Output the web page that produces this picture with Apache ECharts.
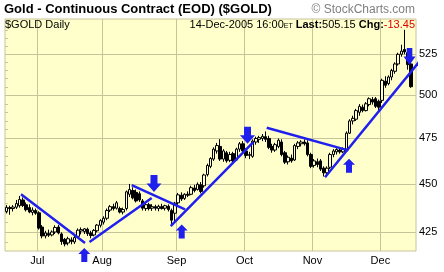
<!DOCTYPE html>
<html><head><meta charset="utf-8">
<script src="https://cdn.jsdelivr.net/npm/echarts@6/dist/echarts.min.js"></script>
<style>html,body{margin:0;padding:0;background:#fff}#c{width:444px;height:272px}</style>
</head><body><div id="c"></div>
<script>
// ---- data ----
const dates = [
'2005-06-17','2005-06-20','2005-06-21','2005-06-22','2005-06-23','2005-06-24','2005-06-27','2005-06-28','2005-06-29','2005-06-30',
'2005-07-01','2005-07-05','2005-07-06','2005-07-07','2005-07-08','2005-07-11','2005-07-12','2005-07-13','2005-07-14','2005-07-15',
'2005-07-18','2005-07-19','2005-07-20','2005-07-21','2005-07-22','2005-07-25','2005-07-26','2005-07-27','2005-07-28','2005-07-29',
'2005-08-01','2005-08-02','2005-08-03','2005-08-04','2005-08-05','2005-08-08','2005-08-09','2005-08-10','2005-08-11','2005-08-12',
'2005-08-15','2005-08-16','2005-08-17','2005-08-18','2005-08-19','2005-08-22','2005-08-23','2005-08-24','2005-08-25','2005-08-26',
'2005-08-29','2005-08-30','2005-08-31',
'2005-09-01','2005-09-02','2005-09-06','2005-09-07','2005-09-08','2005-09-09','2005-09-12','2005-09-13','2005-09-14','2005-09-15',
'2005-09-16','2005-09-19','2005-09-20','2005-09-21','2005-09-22','2005-09-23','2005-09-26','2005-09-27','2005-09-28','2005-09-29','2005-09-30',
'2005-10-03','2005-10-04','2005-10-05','2005-10-06','2005-10-07','2005-10-10','2005-10-11','2005-10-12','2005-10-13','2005-10-14',
'2005-10-17','2005-10-18','2005-10-19','2005-10-20','2005-10-21','2005-10-24','2005-10-25','2005-10-26','2005-10-27','2005-10-28','2005-10-31',
'2005-11-01','2005-11-02','2005-11-03','2005-11-04','2005-11-07','2005-11-08','2005-11-09','2005-11-10','2005-11-11','2005-11-14',
'2005-11-15','2005-11-16','2005-11-17','2005-11-18','2005-11-21','2005-11-22','2005-11-23','2005-11-25','2005-11-28','2005-11-29','2005-11-30',
'2005-12-01','2005-12-02','2005-12-05','2005-12-06','2005-12-07','2005-12-08','2005-12-09','2005-12-12','2005-12-13','2005-12-14'
];
const open = [435.5,437.5,437.0,437.7,438.5,441.5,439.0,437.5,435.0,436.0,
434.8,427.5,423.0,424.2,423.5,425.0,427.5,424.0,421.3,419.5,
421.0,420.0,422.8,425.5,425.2,426.4,424.5,423.5,425.6,428.4,
430.0,432.0,436.2,438.0,437.2,437.0,435.2,437.0,444.5,446.5,
445.5,444.8,441.0,437.0,439.0,437.2,438.0,437.0,438.0,437.2,
438.2,436.0,434.6,
440.0,444.0,442.3,444.5,444.5,447.8,447.0,449.5,449.0,455.0,
459.5,463.5,468.0,470.5,463.5,467.0,462.8,466.5,463.0,469.0,472.0,
468.0,465.5,465.0,473.0,474.5,475.0,476.0,475.0,470.5,468.5,
470.5,473.0,467.0,462.0,464.0,463.0,470.5,472.0,473.0,472.5,466.0,
460.0,462.0,462.5,458.5,456.0,459.0,466.0,467.5,468.5,467.5,
469.0,478.0,485.0,486.0,490.0,493.0,491.0,494.5,497.5,498.0,496.5,
497.0,508.5,507.0,511.0,514.5,519.0,525.0,528.0,526.0,519.0];
const high = [438.8,438.5,438.8,441.5,443.6,442.8,440.2,439.2,437.6,437.0,
435.6,428.5,425.6,426.2,425.8,428.4,428.6,424.8,422.0,422.6,
422.3,423.0,426.8,427.3,427.0,427.2,425.6,426.5,429.0,431.5,
433.0,437.0,438.8,439.5,441.0,438.0,437.5,446.5,450.0,448.2,
447.0,446.0,442.0,440.0,440.0,439.3,439.0,439.0,439.5,439.0,
439.2,437.0,440.5,
445.2,445.5,445.0,446.0,449.0,449.5,450.8,451.0,455.5,461.0,
464.5,470.0,472.5,474.6,469.0,468.0,467.5,467.5,469.8,473.0,473.5,
469.5,467.5,474.5,476.0,476.5,477.5,479.0,476.5,472.0,472.5,
475.0,474.5,468.0,465.5,466.0,472.0,473.5,474.0,474.5,474.0,467.0,
463.5,463.8,463.5,459.5,459.5,467.0,469.0,469.5,470.0,470.0,
479.0,486.0,488.0,492.0,494.8,494.5,496.0,498.8,499.0,499.0,497.5,
510.0,511.5,512.0,516.0,520.0,526.0,531.0,540.5,528.5,520.0];
const low = [434.5,433.8,435.5,436.8,437.5,437.8,435.5,434.6,433.5,433.8,
426.2,421.8,421.8,422.5,422.8,424.0,423.8,418.6,417.8,418.3,
418.8,419.0,422.0,423.8,424.0,423.0,421.8,422.8,424.8,427.3,
428.8,431.0,435.2,436.0,436.5,434.5,434.0,436.0,443.0,441.8,
440.2,440.5,436.0,435.8,436.0,435.8,436.0,435.6,436.5,436.0,
435.5,428.6,430.5,
439.0,441.0,441.5,443.0,444.0,445.5,446.5,445.0,448.0,454.0,
458.5,462.5,466.5,462.5,462.0,461.5,461.8,461.0,462.5,467.5,467.0,
464.0,463.5,464.2,471.5,472.5,473.5,473.0,469.0,467.0,467.5,
469.5,465.0,460.8,460.5,461.5,462.5,469.0,470.5,471.0,465.0,458.5,
458.8,459.0,457.0,454.0,455.0,458.0,464.5,466.0,466.5,466.8,
468.5,477.5,483.0,485.0,488.0,490.0,490.5,493.5,494.5,492.5,491.0,
495.5,504.5,506.0,509.0,513.0,518.0,523.5,525.0,515.5,504.5];
const close = [437.6,437.0,437.8,439.6,441.8,438.6,436.4,435.2,436.2,434.6,
427.0,423.0,424.5,423.4,425.0,427.3,424.5,420.2,419.0,421.6,
420.2,422.2,425.9,426.2,426.6,424.2,423.2,425.8,428.5,430.8,
432.0,436.0,438.0,437.0,440.0,435.2,436.5,445.8,447.0,442.6,
441.0,441.5,437.2,439.0,437.0,438.0,437.2,438.2,437.0,438.5,
436.5,431.0,439.8,
444.2,442.0,444.5,444.0,448.0,446.5,449.8,446.0,454.8,460.0,
463.8,469.0,471.0,463.5,468.0,462.5,466.0,462.5,469.0,472.0,468.0,
465.5,466.0,473.5,475.0,475.5,476.2,474.5,470.0,468.5,471.5,
474.0,466.0,461.8,464.5,462.5,471.0,472.5,473.0,472.0,466.0,459.5,
462.5,460.5,458.0,456.0,458.5,466.0,468.0,468.8,467.5,469.0,
478.0,485.0,486.5,491.0,493.5,491.0,495.0,498.0,496.0,493.5,493.0,
509.0,506.0,511.0,515.0,519.0,525.0,527.0,526.5,518.6,505.15];
const priceTicks = [425, 450, 475, 500, 525];
const minorTicks = [420,425,430,435,440,445,450,455,460,465,470,475,480,485,490,495,500,505,510,515,520,525,530,535,540,545];
const monthNames = ['Jan','Feb','Mar','Apr','May','Jun','Jul','Aug','Sep','Oct','Nov','Dec'];
const yMin = 415.5, yMax = 547.5;
// annotations: [bar index, price]
const trendLines = [
  [[4.44, 444.5], [24.22, 419.5]],
  [[25.61, 420.0], [44.83, 442.5]],
  [[38.65, 449.4], [55.12, 436.6]],
  [[50.7, 428.0], [76.23, 473.0]],
  [[80.37, 481.1], [105.59, 468.3]],
  [[98.39, 453.6], [129.6, 525.6]]
];
const upArrows = [[24.0, 413.5], [54.1, 425.3], [105.8, 459.8]];
const downArrows = [[45.54, 450.2], [74.44, 476.8]];
const downArrowsNarrow = [[124.5, 523.6]];

// ---- build ----
const L = Math.log;
const cats = dates.concat(['']);
const candle = dates.map((d, i) => [L(open[i]), L(close[i]), L(low[i]), L(high[i])]);
const monthBounds = [];
for (let i = 1; i < dates.length; i++) {
  if (dates[i].slice(5, 7) !== dates[i - 1].slice(5, 7)) monthBounds.push(i - 0.5);
}
const gridColor = '#C8C49A';
const blue = '#1F1FEE';
const upPath = 'path://M6,0 L12,6 L9,6 L9,14 L3,14 L3,6 L0,6 Z';
const downPath = 'path://M4,0 L11,0 L11,8.5 L15,8.5 L7.5,17 L0,8.5 L4,8.5 Z';

const series = [{
  type: 'candlestick', xAxisIndex: 0, yAxisIndex: 0, data: candle, barWidth: 3, z: 2,
  itemStyle: { color: '#FFFFCC', color0: '#000', borderColor: '#000', borderColor0: '#000', borderWidth: 1 },
  silent: true
}];
trendLines.forEach(seg => series.push({
  type: 'line', xAxisIndex: 1, yAxisIndex: 0, data: seg.map(p => [p[0], L(p[1])]),
  showSymbol: false, symbol: 'none', clip: false, z: 3, silent: true,
  lineStyle: { color: blue, width: 2.5 }
}));
series.push({ type: 'scatter', xAxisIndex: 1, yAxisIndex: 0, clip: false, z: 4, silent: true,
  data: upArrows.map(p => [p[0], L(p[1])]), symbol: upPath, symbolSize: [12, 14], itemStyle: { color: blue, opacity: 1 } });
series.push({ type: 'scatter', xAxisIndex: 1, yAxisIndex: 0, clip: false, z: 4, silent: true,
  data: downArrows.map(p => [p[0], L(p[1])]), symbol: downPath, symbolSize: [15, 17], itemStyle: { color: blue, opacity: 1 } });
series.push({ type: 'scatter', xAxisIndex: 1, yAxisIndex: 0, clip: false, z: 4, silent: true,
  data: downArrowsNarrow.map(p => [p[0], L(p[1])]), symbol: downPath, symbolSize: [12, 17], itemStyle: { color: blue, opacity: 1 } });

const FONT = '"Liberation Sans", Arial, sans-serif';
const chart = echarts.init(document.getElementById('c'), null, { renderer: 'canvas' });
chart.setOption({
  animation: false,
  backgroundColor: '#ffffff',
  grid: { left: 5, right: 28, top: 19, bottom: 21, show: true, backgroundColor: '#FFFFCC', borderColor: gridColor, borderWidth: 1 },
  xAxis: [
    { type: 'category', data: cats, boundaryGap: true, show: false },
    { type: 'value', min: -0.5, max: cats.length - 0.5, position: 'bottom',
      axisLine: { show: false }, axisTick: { show: false, customValues: monthBounds },
      splitLine: { show: true, lineStyle: { color: gridColor, width: 1 } },
      axisLabel: { customValues: monthBounds, margin: 4, color: '#000', fontSize: 11, fontFamily: FONT,
        formatter: v => monthNames[parseInt(dates[Math.round(v + 0.5)].slice(5, 7), 10) - 1] } }
  ],
  yAxis: [
    { type: 'value', position: 'right', min: L(yMin), max: L(yMax),
      axisLine: { show: false }, axisTick: { show: false, customValues: priceTicks.map(L) },
      splitLine: { show: true, lineStyle: { color: gridColor, width: 1 } },
      axisLabel: { customValues: priceTicks.map(L), margin: 3, color: '#000', fontSize: 11, fontFamily: FONT,
        formatter: v => String(Math.round(Math.exp(v))) } },
    { type: 'value', position: 'left', min: L(yMin), max: L(yMax),
      axisLine: { show: false }, splitLine: { show: false }, axisLabel: { show: false },
      axisTick: { show: true, inside: true, length: 3, customValues: minorTicks.map(L), lineStyle: { color: gridColor } } }
  ],
  series: series,
  graphic: [
    { type: 'text', left: 4, top: 3, style: { text: 'Gold - Continuous Contract (EOD) ($GOLD)', font: 'bold 13px ' + FONT, fill: '#000' } },
    { type: 'text', right: 29, top: 4, style: { text: '\u00a9 StockCharts.com', font: '12px ' + FONT, fill: '#808080' } },
    { type: 'text', left: 5, top: 19, z: 10, style: { text: '$GOLD Daily', font: '11px ' + FONT, fill: '#000' } },
    { type: 'text', right: 29, top: 19, z: 10, style: {
      text: '{n|14-Dec-2005 16:00}{e|ET} {b|Last:}{n|505.15} {b|Chg:}{r|-13.45}',
      font: '11px ' + FONT,
      rich: {
        n: { font: '11px ' + FONT, fill: '#000' },
        e: { font: '7px ' + FONT, fill: '#000', padding: [3, 0, 0, 0] },
        b: { font: 'bold 11px ' + FONT, fill: '#000' },
        r: { font: '11px ' + FONT, fill: '#DD0000' }
      } } }
  ]
});
</script></body></html>
